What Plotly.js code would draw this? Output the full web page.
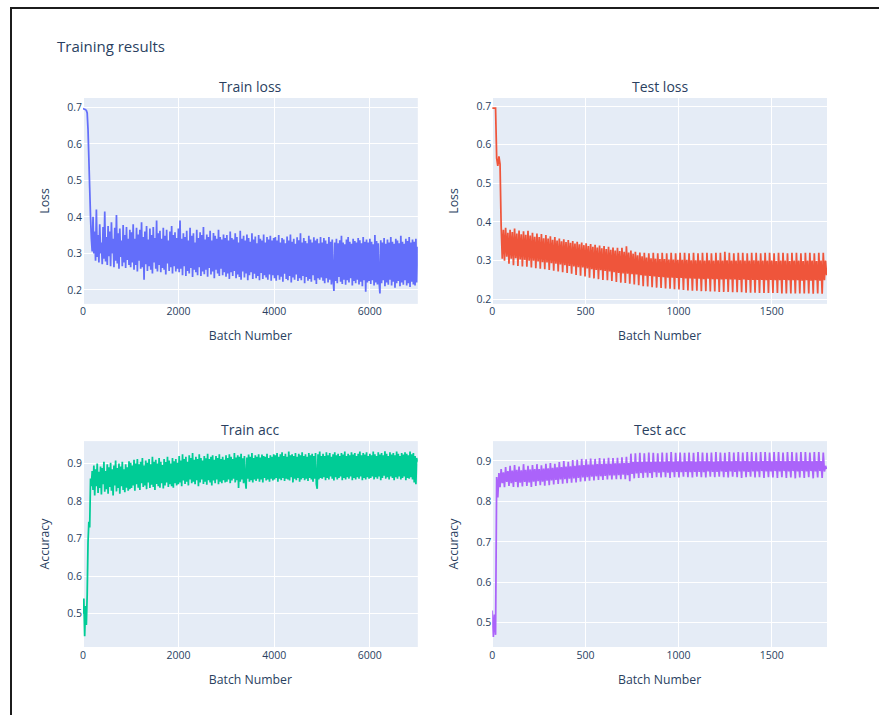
<!DOCTYPE html>
<html>
<head>
<meta charset="utf-8">
<script src="https://cdn.plot.ly/plotly-3.0.1.min.js"></script>
<style>
  html, body { margin: 0; padding: 0; background: #fff; }
  #chart { width: 879px; height: 715px; }
  #frame { position: absolute; left: 10px; top: 7px; width: 900px; height: 800px;
           border-left: 2px solid #1c1c1c; border-top: 2px solid #1c1c1c; pointer-events: none; }
</style>
</head>
<body>
<div id="chart"></div>
<div id="frame"></div>
<script>
// ---------- data ----------
const chartTitle = 'Training results';
const subplotTitles = ['Train loss', 'Test loss', 'Train acc', 'Test acc'];
const xTitle = 'Batch Number';
const lossTitle = 'Loss';
const accTitle = 'Accuracy';

// train series: one sample every 17.5 batches, starting at batch 0
const trainStartBatch = 0;
const trainBatchStep = 17.5;
const trainLoss = [
  0.697, 0.696, 0.695, 0.694, 0.692, 0.685, 0.640, 0.560, 0.480, 0.400, 0.340, 0.305,
  // 200 - 1000
  0.400, 0.300, 0.360, 0.280, 0.420, 0.290, 0.350, 0.275, 0.380, 0.300,
  0.330, 0.270, 0.372, 0.285, 0.415, 0.278, 0.345, 0.268, 0.375, 0.292,
  0.360, 0.265, 0.385, 0.300, 0.340, 0.262, 0.370, 0.280, 0.405, 0.272,
  0.355, 0.258, 0.368, 0.290, 0.335, 0.265, 0.378, 0.275, 0.350, 0.260,
  0.372, 0.282, 0.340, 0.268, 0.365,
  // 1000 - 2000
  0.262, 0.358, 0.275, 0.380, 0.255, 0.340, 0.268, 0.370, 0.250, 0.352,
  0.280, 0.365, 0.258, 0.385, 0.262, 0.345, 0.228, 0.360, 0.270, 0.375,
  0.252, 0.338, 0.265, 0.368, 0.255, 0.350, 0.245, 0.372, 0.275, 0.342,
  0.258, 0.390, 0.250, 0.355, 0.268, 0.362, 0.248, 0.340, 0.260, 0.370,
  0.255, 0.348, 0.242, 0.365, 0.272, 0.335, 0.252, 0.360, 0.262, 0.375,
  0.245, 0.350, 0.265, 0.358, 0.250, 0.342, 0.258,
  // 2000 - 3000
  0.368, 0.248, 0.390, 0.258, 0.340, 0.240, 0.355, 0.265, 0.345, 0.238,
  0.362, 0.252, 0.335, 0.245, 0.370, 0.260, 0.348, 0.235, 0.355, 0.255,
  0.330, 0.248, 0.365, 0.240, 0.342, 0.262, 0.358, 0.238, 0.350, 0.250,
  0.372, 0.243, 0.338, 0.255, 0.352, 0.236, 0.345, 0.260, 0.362, 0.242,
  0.335, 0.250, 0.356, 0.232, 0.348, 0.255, 0.340, 0.245, 0.365, 0.238,
  0.345, 0.258, 0.338, 0.240, 0.352, 0.248, 0.342,
  // 3000 - 4000
  0.236, 0.350, 0.245, 0.335, 0.230, 0.360, 0.248, 0.342, 0.238, 0.338,
  0.252, 0.355, 0.232, 0.345, 0.242, 0.330, 0.235, 0.362, 0.228, 0.340,
  0.250, 0.348, 0.234, 0.335, 0.245, 0.352, 0.226, 0.342, 0.240, 0.332,
  0.248, 0.355, 0.230, 0.338, 0.244, 0.346, 0.232, 0.328, 0.238, 0.350,
  0.226, 0.340, 0.246, 0.335, 0.230, 0.352, 0.240, 0.330, 0.234, 0.345,
  0.228, 0.338, 0.242, 0.348, 0.225, 0.335, 0.240, 0.342,
  // 4000 - 5000
  0.232, 0.345, 0.225, 0.335, 0.240, 0.350, 0.228, 0.330, 0.236, 0.342,
  0.222, 0.338, 0.244, 0.328, 0.230, 0.346, 0.226, 0.335, 0.238, 0.352,
  0.220, 0.332, 0.234, 0.340, 0.228, 0.326, 0.242, 0.344, 0.224, 0.336,
  0.232, 0.355, 0.226, 0.330, 0.238, 0.342, 0.218, 0.334, 0.235, 0.328,
  0.225, 0.348, 0.230, 0.338, 0.222, 0.330, 0.240, 0.344, 0.226, 0.335,
  0.216, 0.340, 0.232, 0.328, 0.228, 0.345, 0.234,
  // 5000 - 6000
  0.330, 0.225, 0.342, 0.218, 0.335, 0.232, 0.326, 0.220, 0.345, 0.228,
  0.332, 0.215, 0.338, 0.230, 0.197, 0.330, 0.224, 0.340, 0.218, 0.328,
  0.235, 0.336, 0.222, 0.348, 0.216, 0.330, 0.228, 0.325, 0.214, 0.338,
  0.226, 0.345, 0.220, 0.332, 0.232, 0.326, 0.212, 0.340, 0.224, 0.334,
  0.218, 0.330, 0.228, 0.342, 0.215, 0.336, 0.222, 0.328, 0.210, 0.345,
  0.226, 0.332, 0.195, 0.338, 0.220, 0.330, 0.224,
  // 6000 - 7000
  0.340, 0.216, 0.332, 0.226, 0.325, 0.212, 0.350, 0.220, 0.334, 0.215,
  0.328, 0.222, 0.190, 0.336, 0.218, 0.330, 0.226, 0.342, 0.210, 0.326,
  0.220, 0.338, 0.214, 0.330, 0.228, 0.345, 0.212, 0.332, 0.222, 0.326,
  0.206, 0.340, 0.218, 0.335, 0.224, 0.328, 0.210, 0.348, 0.220, 0.332,
  0.214, 0.326, 0.226, 0.340, 0.212, 0.334, 0.218, 0.345, 0.208, 0.330,
  0.222, 0.338, 0.215, 0.332, 0.212, 0.340, 0.220, 0.318
];
const trainAcc = [
  0.500, 0.540, 0.440, 0.520, 0.470, 0.550, 0.690, 0.745, 0.730, 0.860, 0.840, 0.880,
  // 200 - 1000
  0.830, 0.895, 0.815, 0.885, 0.840, 0.900, 0.822, 0.878, 0.835, 0.892,
  0.818, 0.888, 0.845, 0.905, 0.825, 0.880, 0.832, 0.898, 0.820, 0.890,
  0.838, 0.902, 0.828, 0.885, 0.815, 0.895, 0.842, 0.908, 0.826, 0.888,
  0.835, 0.900, 0.820, 0.892, 0.840, 0.905, 0.830, 0.885, 0.824, 0.898,
  0.836, 0.890, 0.828, 0.906, 0.832,
  // 1000 - 2000
  0.902, 0.835, 0.895, 0.842, 0.910, 0.828, 0.900, 0.845, 0.912, 0.836,
  0.898, 0.830, 0.905, 0.848, 0.915, 0.838, 0.895, 0.842, 0.908, 0.832,
  0.902, 0.850, 0.912, 0.835, 0.898, 0.844, 0.918, 0.838, 0.905, 0.830,
  0.910, 0.846, 0.900, 0.840, 0.915, 0.836, 0.905, 0.848, 0.896, 0.834,
  0.912, 0.842, 0.904, 0.850, 0.918, 0.838, 0.908, 0.845, 0.900, 0.840,
  0.915, 0.836, 0.906, 0.848, 0.912, 0.842, 0.902,
  // 2000 - 3000
  0.845, 0.920, 0.850, 0.908, 0.840, 0.925, 0.855, 0.912, 0.846, 0.918,
  0.852, 0.905, 0.842, 0.922, 0.858, 0.915, 0.848, 0.928, 0.852, 0.910,
  0.845, 0.918, 0.856, 0.912, 0.840, 0.925, 0.850, 0.915, 0.858, 0.908,
  0.846, 0.920, 0.852, 0.914, 0.844, 0.926, 0.856, 0.912, 0.850, 0.918,
  0.842, 0.922, 0.855, 0.910, 0.848, 0.920, 0.858, 0.915, 0.845, 0.925,
  0.852, 0.912, 0.848, 0.918, 0.856, 0.910, 0.850,
  // 3000 - 4000
  0.922, 0.852, 0.915, 0.858, 0.925, 0.848, 0.918, 0.855, 0.912, 0.860,
  0.928, 0.850, 0.916, 0.856, 0.922, 0.835, 0.918, 0.852, 0.926, 0.858,
  0.914, 0.848, 0.920, 0.856, 0.833, 0.916, 0.860, 0.924, 0.852, 0.918,
  0.856, 0.928, 0.850, 0.915, 0.858, 0.922, 0.854, 0.918, 0.860, 0.925,
  0.852, 0.916, 0.858, 0.924, 0.850, 0.920, 0.862, 0.918, 0.855, 0.926,
  0.858, 0.915, 0.852, 0.922, 0.860, 0.918, 0.855, 0.925,
  // 4000 - 5000
  0.858, 0.922, 0.862, 0.928, 0.852, 0.918, 0.860, 0.925, 0.856, 0.930,
  0.862, 0.920, 0.854, 0.926, 0.860, 0.918, 0.858, 0.932, 0.855, 0.922,
  0.864, 0.925, 0.850, 0.920, 0.860, 0.928, 0.856, 0.918, 0.862, 0.926,
  0.852, 0.922, 0.858, 0.930, 0.862, 0.920, 0.856, 0.925, 0.860, 0.918,
  0.854, 0.928, 0.862, 0.922, 0.858, 0.926, 0.852, 0.920, 0.860, 0.928,
  0.845, 0.833, 0.925, 0.858, 0.932, 0.862, 0.920,
  // 5000 - 6000
  0.860, 0.926, 0.864, 0.920, 0.856, 0.930, 0.862, 0.922, 0.858, 0.928,
  0.866, 0.918, 0.860, 0.925, 0.855, 0.930, 0.864, 0.922, 0.858, 0.926,
  0.862, 0.920, 0.866, 0.928, 0.856, 0.924, 0.862, 0.932, 0.858, 0.920,
  0.864, 0.926, 0.860, 0.922, 0.866, 0.930, 0.856, 0.924, 0.862, 0.928,
  0.858, 0.920, 0.864, 0.926, 0.860, 0.932, 0.866, 0.922, 0.856, 0.928,
  0.862, 0.924, 0.858, 0.930, 0.864, 0.920, 0.860,
  // 6000 - 7000
  0.926, 0.862, 0.922, 0.866, 0.932, 0.858, 0.925, 0.864, 0.920, 0.860,
  0.930, 0.866, 0.924, 0.856, 0.928, 0.862, 0.922, 0.868, 0.933, 0.860,
  0.926, 0.864, 0.920, 0.858, 0.930, 0.866, 0.924, 0.862, 0.928, 0.856,
  0.922, 0.864, 0.932, 0.860, 0.926, 0.866, 0.920, 0.858, 0.928, 0.862,
  0.924, 0.866, 0.930, 0.856, 0.926, 0.862, 0.922, 0.860, 0.932, 0.864,
  0.925, 0.858, 0.928, 0.850, 0.920, 0.845, 0.915, 0.905
];

// test series: one sample every 6 batches (4 per evaluation pass)
const testStartBatch = 0;
const testBatchStep = 6;
const testLoss = [
  0.695, 0.695, 0.695, 0.695,  0.565, 0.545, 0.570, 0.550,
  0.390, 0.305, 0.380, 0.300,  0.385, 0.310, 0.372, 0.292,
  0.380, 0.305, 0.374, 0.288,  0.383, 0.306, 0.370, 0.286,
  0.378, 0.303, 0.368, 0.285,  0.376, 0.302, 0.367, 0.284,
  0.377, 0.300, 0.365, 0.282,  0.372, 0.300, 0.362, 0.280,
  0.370, 0.298, 0.361, 0.279,  0.369, 0.296, 0.358, 0.278,
  0.366, 0.295, 0.357, 0.276,  0.363, 0.293, 0.354, 0.274,
  0.361, 0.292, 0.352, 0.272,  0.357, 0.290, 0.350, 0.270,
  0.355, 0.288, 0.348, 0.268,  0.353, 0.286, 0.346, 0.266,
  0.351, 0.285, 0.344, 0.263,  0.349, 0.283, 0.342, 0.261,
  0.347, 0.282, 0.340, 0.259,  0.345, 0.280, 0.338, 0.256,
  0.343, 0.278, 0.336, 0.254,  0.341, 0.276, 0.334, 0.252,
  0.339, 0.275, 0.332, 0.250,  0.338, 0.273, 0.330, 0.249,
  0.336, 0.272, 0.328, 0.247,  0.334, 0.270, 0.326, 0.245,
  0.333, 0.268, 0.325, 0.243,  0.333, 0.267, 0.323, 0.242,
  0.337, 0.266, 0.321, 0.240,  0.326, 0.265, 0.318, 0.238,
  0.323, 0.264, 0.314, 0.236,  0.321, 0.262, 0.311, 0.234,
  0.320, 0.261, 0.308, 0.233,  0.319, 0.260, 0.306, 0.231,
  0.320, 0.259, 0.305, 0.230,  0.319, 0.258, 0.304, 0.229,
  0.320, 0.257, 0.304, 0.228,  0.319, 0.256, 0.303, 0.227,
  0.320, 0.256, 0.303, 0.226,  0.319, 0.255, 0.302, 0.225,
  0.320, 0.255, 0.302, 0.224,  0.320, 0.254, 0.302, 0.223,
  0.319, 0.254, 0.301, 0.222,  0.320, 0.253, 0.301, 0.222,
  0.319, 0.253, 0.301, 0.221,  0.320, 0.252, 0.300, 0.221,
  0.320, 0.253, 0.301, 0.220,  0.319, 0.252, 0.300, 0.220,
  0.320, 0.252, 0.301, 0.219,  0.320, 0.251, 0.300, 0.219,
  0.323, 0.252, 0.301, 0.219,  0.320, 0.251, 0.300, 0.218,
  0.319, 0.251, 0.300, 0.218,  0.320, 0.250, 0.301, 0.218,
  0.320, 0.251, 0.300, 0.217,  0.319, 0.250, 0.300, 0.217,
  0.320, 0.250, 0.301, 0.217,  0.320, 0.250, 0.300, 0.216,
  0.319, 0.250, 0.300, 0.216,  0.320, 0.249, 0.300, 0.216,
  0.320, 0.250, 0.300, 0.216,  0.319, 0.249, 0.299, 0.216,
  0.320, 0.249, 0.300, 0.215,  0.320, 0.250, 0.300, 0.215,
  0.319, 0.249, 0.299, 0.215,  0.320, 0.249, 0.300, 0.215,
  0.320, 0.249, 0.300, 0.215,  0.319, 0.248, 0.299, 0.215,
  0.320, 0.249, 0.300, 0.215,  0.320, 0.248, 0.300, 0.214,
  0.319, 0.249, 0.299, 0.215,  0.320, 0.248, 0.300, 0.214,
  0.320, 0.249, 0.300, 0.262
];
const testAcc = [
  0.530, 0.465, 0.520, 0.470,  0.860, 0.810, 0.870, 0.835,
  0.880, 0.845, 0.872, 0.835,  0.885, 0.848, 0.875, 0.838,
  0.888, 0.845, 0.876, 0.836,  0.890, 0.848, 0.878, 0.835,
  0.886, 0.846, 0.877, 0.837,  0.892, 0.848, 0.878, 0.838,
  0.888, 0.847, 0.879, 0.836,  0.890, 0.849, 0.880, 0.838,
  0.892, 0.850, 0.880, 0.840,  0.889, 0.849, 0.881, 0.839,
  0.893, 0.851, 0.882, 0.840,  0.895, 0.852, 0.883, 0.842,
  0.893, 0.853, 0.884, 0.843,  0.897, 0.854, 0.885, 0.844,
  0.900, 0.855, 0.886, 0.845,  0.898, 0.856, 0.887, 0.846,
  0.902, 0.857, 0.888, 0.847,  0.903, 0.858, 0.889, 0.849,
  0.905, 0.859, 0.890, 0.850,  0.904, 0.860, 0.891, 0.851,
  0.906, 0.861, 0.891, 0.852,  0.905, 0.862, 0.892, 0.853,
  0.907, 0.862, 0.892, 0.853,  0.906, 0.863, 0.893, 0.854,
  0.908, 0.864, 0.893, 0.854,  0.907, 0.864, 0.894, 0.855,
  0.908, 0.865, 0.894, 0.855,  0.909, 0.866, 0.895, 0.855,
  0.910, 0.865, 0.895, 0.850,  0.918, 0.868, 0.897, 0.857,
  0.919, 0.869, 0.897, 0.858,  0.920, 0.870, 0.897, 0.858,
  0.919, 0.871, 0.898, 0.859,  0.921, 0.870, 0.897, 0.858,
  0.920, 0.872, 0.898, 0.860,  0.919, 0.871, 0.898, 0.859,
  0.921, 0.872, 0.898, 0.860,  0.920, 0.871, 0.899, 0.858,
  0.922, 0.872, 0.898, 0.860,  0.920, 0.873, 0.899, 0.859,
  0.921, 0.872, 0.898, 0.861,  0.920, 0.873, 0.899, 0.860,
  0.921, 0.872, 0.899, 0.859,  0.920, 0.873, 0.898, 0.861,
  0.922, 0.873, 0.899, 0.860,  0.921, 0.872, 0.899, 0.859,
  0.920, 0.874, 0.899, 0.861,  0.921, 0.873, 0.898, 0.860,
  0.922, 0.873, 0.899, 0.861,  0.921, 0.874, 0.899, 0.860,
  0.920, 0.873, 0.899, 0.859,  0.922, 0.874, 0.899, 0.861,
  0.921, 0.873, 0.900, 0.860,  0.922, 0.874, 0.899, 0.858,
  0.921, 0.874, 0.900, 0.860,  0.922, 0.873, 0.899, 0.861,
  0.922, 0.874, 0.900, 0.859,  0.921, 0.874, 0.899, 0.860,
  0.922, 0.875, 0.900, 0.858,  0.922, 0.874, 0.900, 0.860,
  0.921, 0.874, 0.899, 0.859,  0.922, 0.875, 0.900, 0.858,
  0.922, 0.874, 0.900, 0.860,  0.921, 0.875, 0.899, 0.858,
  0.922, 0.874, 0.900, 0.859,  0.922, 0.875, 0.900, 0.857,
  0.921, 0.874, 0.899, 0.859,  0.922, 0.875, 0.900, 0.858,
  0.922, 0.874, 0.900, 0.860,  0.921, 0.875, 0.899, 0.857,
  0.922, 0.874, 0.900, 0.859,  0.922, 0.875, 0.900, 0.858,
  0.921, 0.874, 0.888, 0.880
];

// ---------- styling ----------
const colors = ['#636efa', '#EF553B', '#00cc96', '#ab63fa'];
const fontFamily = '"Open Sans", verdana, arial, sans-serif';
const textColor = '#2a3f5f';

function line(y, x0, dx, xa, ya, color) {
  return { type: 'scatter', mode: 'lines', y: y, x0: x0, dx: dx,
           xaxis: xa, yaxis: ya, line: { color: color, width: 1.75, simplify: false },
           showlegend: false, hoverinfo: 'skip' };
}

const traces = [
  line(trainLoss, trainStartBatch, trainBatchStep, 'x',  'y',  colors[0]),
  line(testLoss,  testStartBatch,  testBatchStep,  'x2', 'y2', colors[1]),
  line(trainAcc,  trainStartBatch, trainBatchStep, 'x3', 'y3', colors[2]),
  line(testAcc,   testStartBatch,  testBatchStep,  'x4', 'y4', colors[3])
];

function axis(extra) {
  return Object.assign({
    showgrid: true, gridcolor: '#ffffff', gridwidth: 1,
    zeroline: true, zerolinecolor: '#ffffff', zerolinewidth: 2,
    showline: false, ticks: '', automargin: false,
    tickfont: { size: 10.5, color: textColor, family: fontFamily }
  }, extra);
}
function xt() { return { text: xTitle, standoff: 14, font: { size: 12.25, color: textColor, family: fontFamily } }; }
function yt(t) { return { text: t, font: { size: 12.25, color: textColor, family: fontFamily } }; }

const colDom = [[0, 0.45], [0.55, 1]];
const rowDom = [[0.625, 1], [0, 0.375]];

const annotations = subplotTitles.map(function (t, i) {
  const c = colDom[i % 2], r = rowDom[Math.floor(i / 2)];
  return { text: t, xref: 'paper', yref: 'paper', x: (c[0] + c[1]) / 2, y: r[1],
           xanchor: 'center', yanchor: 'bottom', showarrow: false,
           font: { size: 14, color: textColor, family: fontFamily } };
});

const layout = {
  width: 879, height: 715,
  margin: { l: 83, r: 52, t: 98, b: 68, pad: 0 },
  paper_bgcolor: '#ffffff', plot_bgcolor: '#E5ECF6',
  font: { family: fontFamily, color: textColor, size: 12 },
  title: { text: chartTitle, x: 57 / 879, xanchor: 'left', xref: 'container',
           y: 1 - 47 / 715, yanchor: 'middle', yref: 'container',
           font: { size: 15, color: textColor, family: fontFamily } },
  showlegend: false,
  annotations: annotations,
  xaxis:  axis({ domain: colDom[0], anchor: 'y',  range: [0, 7005], tick0: 0, dtick: 2000, title: xt() }),
  yaxis:  axis({ domain: rowDom[0], anchor: 'x',  range: [0.1615, 0.726], tick0: 0, dtick: 0.1, title: yt(lossTitle) }),
  xaxis2: axis({ domain: colDom[1], anchor: 'y2', range: [0, 1796], tick0: 0, dtick: 500, title: xt() }),
  yaxis2: axis({ domain: rowDom[0], anchor: 'x2', range: [0.188, 0.721], tick0: 0, dtick: 0.1, title: yt(lossTitle) }),
  xaxis3: axis({ domain: colDom[0], anchor: 'y3', range: [0, 7005], tick0: 0, dtick: 2000, title: xt() }),
  yaxis3: axis({ domain: rowDom[1], anchor: 'x3', range: [0.411, 0.96], tick0: 0, dtick: 0.1, title: yt(accTitle) }),
  xaxis4: axis({ domain: colDom[1], anchor: 'y4', range: [0, 1796], tick0: 0, dtick: 500, title: xt() }),
  yaxis4: axis({ domain: rowDom[1], anchor: 'x4', range: [0.44, 0.949], tick0: 0, dtick: 0.1, title: yt(accTitle) })
};

Plotly.newPlot('chart', traces, layout, { staticPlot: true, displayModeBar: false });
</script>
</body>
</html>
